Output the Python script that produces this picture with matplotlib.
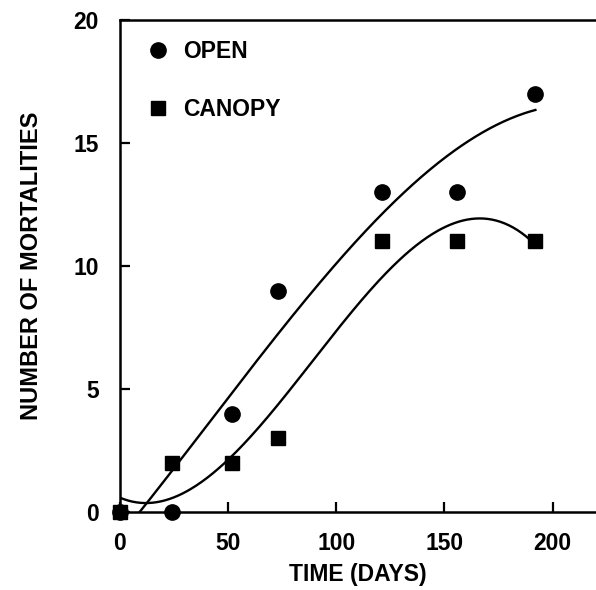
import numpy as np
import matplotlib
matplotlib.use("Agg")
import matplotlib.pyplot as plt

plt.rcParams["font.family"] = ["Liberation Sans", "DejaVu Sans"]
plt.rcParams["font.weight"] = "bold"

# data
days = [0, 24, 52, 73, 121, 156, 192]
open_mort = [0, 0, 4, 9, 13, 13, 17]
canopy_mort = [0, 2, 2, 3, 11, 11, 11]

fig = plt.figure(figsize=(5.96, 5.90), dpi=100)
ax = fig.add_axes([0.201, 0.132, 0.799, 0.834])

# cubic trend lines fitted to each series
xs = np.linspace(0, 192, 300)
for y in (open_mort, canopy_mort):
    c = np.polyfit(days, y, 3)
    ax.plot(xs, np.polyval(c, xs), color="black", lw=1.7, zorder=2)

ax.plot(days, open_mort, "o", color="black", ms=11, label="OPEN", clip_on=False, zorder=3)
ax.plot(days, canopy_mort, "s", color="black", ms=9.5, label="CANOPY", clip_on=False, zorder=3)

ax.set_xlim(0, 220)
ax.set_ylim(0, 20)
ax.set_xticks([0, 50, 100, 150, 200])
ax.set_yticks([0, 5, 10, 15, 20])
ax.tick_params(direction="in", length=7, width=1.6, labelsize=16.5)
ax.tick_params(axis="x", pad=14)
ax.tick_params(axis="y", pad=15)
for s in ("left", "bottom", "top"):
    ax.spines[s].set_linewidth(1.8)
ax.spines["right"].set_visible(False)

ax.set_xlabel("TIME (DAYS)", fontsize=16.5, fontweight="bold", labelpad=6)
ax.set_ylabel("NUMBER OF MORTALITIES", fontsize=17, fontweight="bold", labelpad=22)

ax.legend(loc="upper left", bbox_to_anchor=(0.008, 1.002), frameon=False,
          fontsize=16.5, labelspacing=1.55, handlelength=1.2, handletextpad=0.5,
          numpoints=1)

fig.savefig("out.png", dpi=100)
